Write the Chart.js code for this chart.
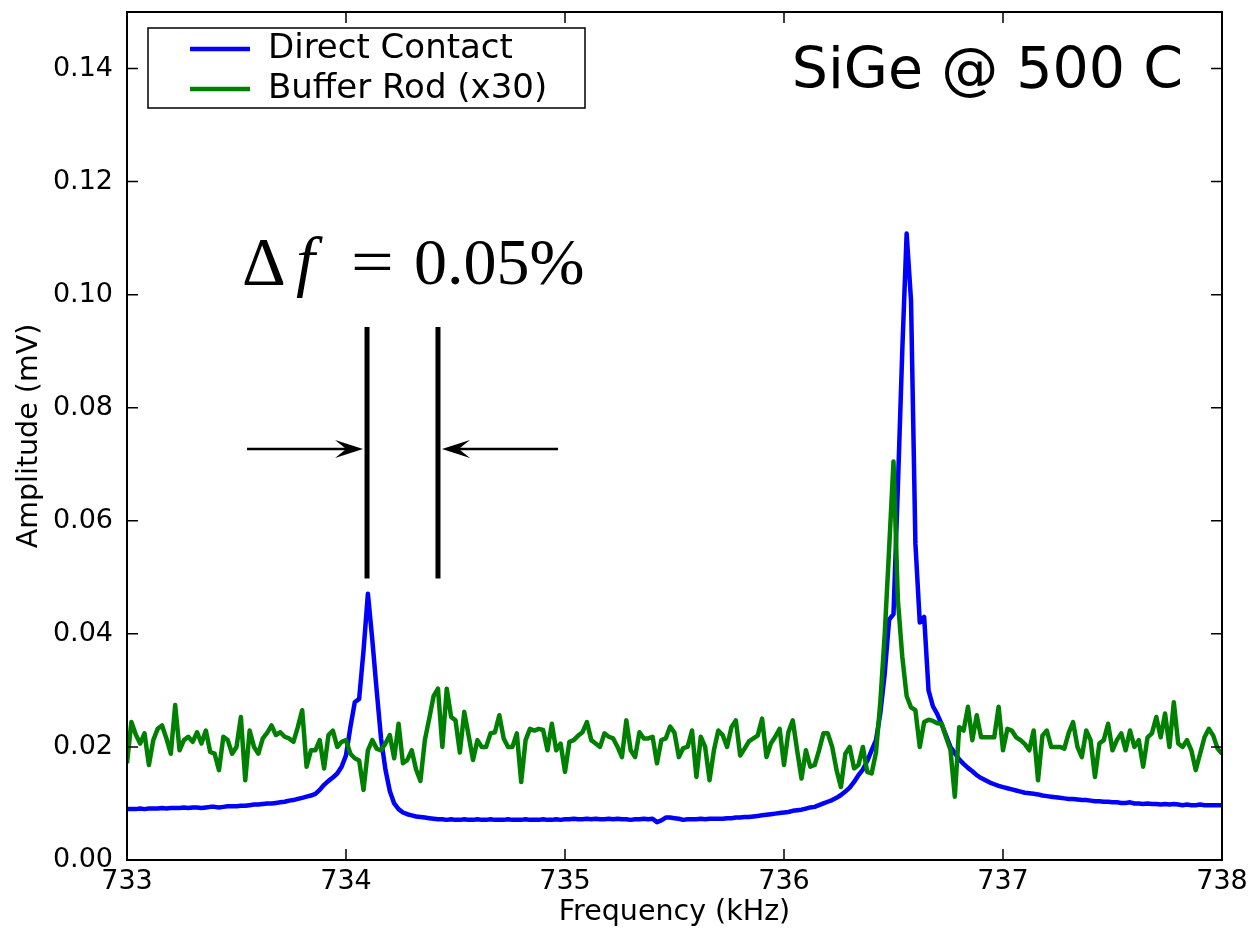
<!DOCTYPE html>
<html>
<head>
<meta charset="utf-8">
<title>SiGe @ 500 C</title>
<script src="https://cdn.jsdelivr.net/npm/chart.js@4.4.1/dist/chart.umd.min.js"></script>
<style>
  html, body { margin: 0; padding: 0; background: #fff; }
  #wrap { width: 1252px; height: 930px; }
</style>
</head>
<body>
<div id="wrap"><canvas id="spectrum" width="1252" height="930"></canvas></div>
<script>
// frequency sweep: 733.00 .. 738.00 kHz, one reading every 0.02 kHz
const freqStart = 733;
const freqStep = 0.02;

// amplitude (mV), transducer glued straight onto the sample
const directContact = [
  0.0090, 0.0090, 0.0090, 0.0091, 0.0090, 0.0091, 0.0091, 0.0091, 0.0092, 0.0091,
  0.0092, 0.0092, 0.0092, 0.0093, 0.0092, 0.0093, 0.0093, 0.0092, 0.0093, 0.0094,
  0.0094, 0.0093, 0.0094, 0.0095, 0.0095, 0.0095, 0.0096, 0.0096, 0.0097, 0.0098,
  0.0098, 0.0099, 0.0100, 0.0100, 0.0101, 0.0102, 0.0103, 0.0105, 0.0106, 0.0108,
  0.0110, 0.0112, 0.0114, 0.0117, 0.0124, 0.0133, 0.0140, 0.0146, 0.0153, 0.0165,
  0.0185, 0.0235, 0.0279, 0.0285, 0.0370, 0.0471, 0.0390, 0.0300, 0.0215, 0.0160,
  0.0122, 0.0100, 0.0090, 0.0084, 0.0081, 0.0079, 0.0077, 0.0076, 0.0075, 0.0074,
  0.0073, 0.0072, 0.0072, 0.0071, 0.0072, 0.0071, 0.0071, 0.0072, 0.0071, 0.0071,
  0.0072, 0.0071, 0.0071, 0.0072, 0.0071, 0.0071, 0.0071, 0.0072, 0.0071, 0.0071,
  0.0071, 0.0072, 0.0071, 0.0071, 0.0071, 0.0072, 0.0071, 0.0071, 0.0072, 0.0071,
  0.0072, 0.0072, 0.0073, 0.0072, 0.0072, 0.0073, 0.0072, 0.0073, 0.0072, 0.0072,
  0.0073, 0.0072, 0.0073, 0.0072, 0.0072, 0.0071, 0.0072, 0.0072, 0.0073, 0.0072,
  0.0073, 0.0067, 0.0070, 0.0075, 0.0075, 0.0074, 0.0073, 0.0071, 0.0072, 0.0072,
  0.0072, 0.0073, 0.0072, 0.0073, 0.0073, 0.0073, 0.0073, 0.0074, 0.0074, 0.0075,
  0.0075, 0.0076, 0.0076, 0.0077, 0.0078, 0.0079, 0.0080, 0.0081, 0.0082, 0.0083,
  0.0084, 0.0085, 0.0087, 0.0088, 0.0089, 0.0091, 0.0093, 0.0094, 0.0097, 0.0100,
  0.0103, 0.0106, 0.0110, 0.0115, 0.0121, 0.0128, 0.0138, 0.0150, 0.0160, 0.0175,
  0.0194, 0.0212, 0.0260, 0.0330, 0.0425, 0.0435, 0.0660, 0.0900, 0.1108, 0.0990,
  0.0560, 0.0420, 0.0430, 0.0300, 0.0272, 0.0258, 0.0240, 0.0220, 0.0200, 0.0189,
  0.0178, 0.0170, 0.0163, 0.0157, 0.0150, 0.0145, 0.0141, 0.0137, 0.0134, 0.0131,
  0.0129, 0.0127, 0.0125, 0.0123, 0.0121, 0.0119, 0.0118, 0.0117, 0.0116, 0.0114,
  0.0113, 0.0112, 0.0111, 0.0110, 0.0109, 0.0108, 0.0108, 0.0107, 0.0106, 0.0106,
  0.0105, 0.0104, 0.0104, 0.0103, 0.0103, 0.0102, 0.0102, 0.0101, 0.0101, 0.0102,
  0.0100, 0.0100, 0.0099, 0.0100, 0.0099, 0.0099, 0.0098, 0.0099, 0.0098, 0.0099,
  0.0098, 0.0097, 0.0098, 0.0097, 0.0097, 0.0098, 0.0097, 0.0097, 0.0097, 0.0097,
  0.0097
];

// amplitude (mV) through the buffer rod, already scaled x30
const bufferRod = [
  0.0171, 0.0244, 0.0222, 0.0206, 0.0224, 0.0168, 0.0212, 0.0232, 0.0238, 0.0215,
  0.0188, 0.0274, 0.0194, 0.0212, 0.0218, 0.0209, 0.0226, 0.0206, 0.0229, 0.0191,
  0.0188, 0.0159, 0.0218, 0.0212, 0.0188, 0.0200, 0.0253, 0.0141, 0.0229, 0.0200,
  0.0188, 0.0215, 0.0225, 0.0238, 0.0221, 0.0226, 0.0218, 0.0215, 0.0209, 0.0235,
  0.0265, 0.0165, 0.0194, 0.0194, 0.0212, 0.0162, 0.0221, 0.0229, 0.0200, 0.0209,
  0.0212, 0.0188, 0.0180, 0.0176, 0.0124, 0.0194, 0.0212, 0.0197, 0.0194, 0.0206,
  0.0221, 0.0180, 0.0241, 0.0171, 0.0177, 0.0194, 0.0160, 0.0140, 0.0212, 0.0250,
  0.0290, 0.0303, 0.0200, 0.0303, 0.0253, 0.0247, 0.0190, 0.0262, 0.0220, 0.0177,
  0.0212, 0.0200, 0.0200, 0.0224, 0.0226, 0.0256, 0.0215, 0.0200, 0.0200, 0.0224,
  0.0138, 0.0212, 0.0232, 0.0229, 0.0232, 0.0230, 0.0194, 0.0241, 0.0194, 0.0206,
  0.0156, 0.0209, 0.0212, 0.0220, 0.0226, 0.0244, 0.0212, 0.0206, 0.0200, 0.0224,
  0.0218, 0.0215, 0.0200, 0.0182, 0.0247, 0.0194, 0.0182, 0.0226, 0.0215, 0.0215,
  0.0218, 0.0171, 0.0212, 0.0215, 0.0236, 0.0225, 0.0182, 0.0198, 0.0200, 0.0229,
  0.0147, 0.0218, 0.0200, 0.0141, 0.0194, 0.0229, 0.0221, 0.0200, 0.0235, 0.0247,
  0.0185, 0.0197, 0.0210, 0.0215, 0.0220, 0.0250, 0.0182, 0.0206, 0.0218, 0.0232,
  0.0168, 0.0226, 0.0247, 0.0194, 0.0144, 0.0194, 0.0165, 0.0168, 0.0194, 0.0224,
  0.0224, 0.0200, 0.0159, 0.0129, 0.0188, 0.0200, 0.0162, 0.0168, 0.0200, 0.0156,
  0.0153, 0.0190, 0.0280, 0.0400, 0.0550, 0.0705, 0.0460, 0.0360, 0.0290, 0.0270,
  0.0265, 0.0200, 0.0244, 0.0248, 0.0246, 0.0242, 0.0241, 0.0217, 0.0195, 0.0112,
  0.0235, 0.0229, 0.0271, 0.0212, 0.0256, 0.0217, 0.0217, 0.0217, 0.0217, 0.0271,
  0.0194, 0.0232, 0.0229, 0.0217, 0.0212, 0.0205, 0.0194, 0.0229, 0.0141, 0.0220,
  0.0229, 0.0200, 0.0200, 0.0200, 0.0197, 0.0225, 0.0244, 0.0200, 0.0182, 0.0229,
  0.0212, 0.0147, 0.0206, 0.0212, 0.0241, 0.0194, 0.0212, 0.0224, 0.0194, 0.0229,
  0.0200, 0.0212, 0.0165, 0.0217, 0.0224, 0.0253, 0.0217, 0.0259, 0.0200, 0.0279,
  0.0206, 0.0200, 0.0212, 0.0194, 0.0159, 0.0188, 0.0217, 0.0232, 0.0220, 0.0197,
  0.0188
];

const seriesLabels = ["Direct Contact", "Buffer Rod (x30)"];
const seriesColors = ["#0000ff", "#008000"];

const xTicks = [733, 734, 735, 736, 737, 738];
const yTicks = [0, 0.02, 0.04, 0.06, 0.08, 0.10, 0.12, 0.14];

// peak-shift markers: bar positions (kHz), bar span (mV), arrows
const markerFreqs = [734.096, 734.42];
const markerSpan = [0.0498, 0.0943];
const arrowTails = [733.548, 734.968];
const arrowLevel = 0.0727;
const shiftLabelAt = { x: 733.525, y: 0.1018 };

const tickLen = 11;
const lineWidth = 4.5;

function toPoints(values) {
  return values.map((v, i) => ({ x: freqStart + i * freqStep, y: v }));
}

function drawArrow(ctx, tailX, tipX, yPx) {
  const dir = Math.sign(tipX - tailX);
  const headLen = 28, headHalf = 9;
  ctx.beginPath();
  ctx.moveTo(tailX, yPx);
  ctx.lineTo(tipX - dir * headLen * 0.6, yPx);
  ctx.lineWidth = 2.5;
  ctx.stroke();
  ctx.beginPath();
  ctx.moveTo(tipX, yPx);
  ctx.lineTo(tipX - dir * headLen, yPx - headHalf);
  ctx.lineTo(tipX - dir * headLen * 0.6, yPx);
  ctx.lineTo(tipX - dir * headLen, yPx + headHalf);
  ctx.closePath();
  ctx.fill();
}

const decorations = {
  id: "decorations",
  afterDatasetsDraw(chart) {
    const { ctx, chartArea: a, scales: { x, y } } = chart;
    ctx.save();
    ctx.strokeStyle = "#000";
    ctx.fillStyle = "#000";

    // inward tick marks on every side
    ctx.lineWidth = 1.5;
    ctx.beginPath();
    xTicks.forEach((v) => {
      const px = x.getPixelForValue(v);
      ctx.moveTo(px, a.bottom); ctx.lineTo(px, a.bottom - tickLen);
      ctx.moveTo(px, a.top); ctx.lineTo(px, a.top + tickLen);
    });
    yTicks.forEach((v) => {
      const py = y.getPixelForValue(v);
      ctx.moveTo(a.left, py); ctx.lineTo(a.left + tickLen, py);
      ctx.moveTo(a.right, py); ctx.lineTo(a.right - tickLen, py);
    });
    ctx.stroke();

    // axes frame
    ctx.lineWidth = 2;
    ctx.strokeRect(a.left, a.top, a.right - a.left, a.bottom - a.top);

    // shift markers
    ctx.lineWidth = 5;
    ctx.beginPath();
    markerFreqs.forEach((f) => {
      const px = x.getPixelForValue(f);
      ctx.moveTo(px, y.getPixelForValue(markerSpan[0]));
      ctx.lineTo(px, y.getPixelForValue(markerSpan[1]));
    });
    ctx.stroke();
    const ay = y.getPixelForValue(arrowLevel);
    drawArrow(ctx, x.getPixelForValue(arrowTails[0]), x.getPixelForValue(markerFreqs[0]) - 4, ay);
    drawArrow(ctx, x.getPixelForValue(arrowTails[1]), x.getPixelForValue(markerFreqs[1]) + 4, ay);

    // Δf = 0.05%
    const tx = x.getPixelForValue(shiftLabelAt.x);
    const ty = y.getPixelForValue(shiftLabelAt.y);
    ctx.textBaseline = "alphabetic";
    ctx.textAlign = "left";
    ctx.font = "68px 'Liberation Serif'";
    ctx.fillText("\u0394", tx, ty);
    ctx.font = "italic 68px 'Liberation Serif'";
    ctx.fillText("f", tx + 54, ty);
    ctx.font = "66px 'Liberation Serif'";
    ctx.save();
    ctx.translate(tx + 109, ty);
    ctx.scale(1.15, 1);
    ctx.fillText("=", 0, 0);
    ctx.restore();
    ctx.fillText("0.05%", tx + 172, ty);

    // sample label
    ctx.font = "57px 'DejaVu Sans'";
    ctx.textAlign = "right";
    ctx.fillText("SiGe @ 500 C", a.right - 39, a.top + 76);

    // legend box
    const bx = a.left + 21, by = a.top + 16, bw = 437, bh = 80;
    ctx.fillStyle = "#fff";
    ctx.fillRect(bx, by, bw, bh);
    ctx.lineWidth = 1.5;
    ctx.strokeRect(bx, by, bw, bh);
    ctx.font = "34px 'DejaVu Sans'";
    ctx.textAlign = "left";
    ctx.textBaseline = "middle";
    chart.data.datasets.forEach((ds, i) => {
      const ly = by + 21 + i * 40;
      ctx.strokeStyle = ds.borderColor;
      ctx.lineWidth = lineWidth;
      ctx.beginPath();
      ctx.moveTo(bx + 42, ly);
      ctx.lineTo(bx + 102, ly);
      ctx.stroke();
      ctx.fillStyle = "#000";
      ctx.fillText(ds.label, bx + 120, ly);
    });
    ctx.restore();
  }
};

new Chart(document.getElementById("spectrum"), {
  type: "line",
  data: {
    datasets: [
      {
        label: seriesLabels[0],
        data: toPoints(directContact),
        borderColor: seriesColors[0],
        borderWidth: lineWidth,
        pointRadius: 0,
        tension: 0,
        borderJoinStyle: "round",
        order: 2
      },
      {
        label: seriesLabels[1],
        data: toPoints(bufferRod),
        borderColor: seriesColors[1],
        borderWidth: lineWidth,
        pointRadius: 0,
        tension: 0,
        borderJoinStyle: "round",
        order: 1
      }
    ]
  },
  options: {
    responsive: false,
    animation: false,
    layout: { padding: { top: 12, right: 30, left: 0, bottom: 0 } },
    plugins: { legend: { display: false }, tooltip: { enabled: false } },
    scales: {
      x: {
        type: "linear",
        min: 733,
        max: 738,
        grid: { display: false, drawTicks: false },
        border: { display: false },
        afterBuildTicks: (s) => { s.ticks = xTicks.map((v) => ({ value: v })); },
        afterFit: (s) => { s.height = 70; s.paddingLeft = 0; s.paddingRight = 0; },
        ticks: {
          autoSkip: false,
          maxRotation: 0,
          padding: 6,
          color: "#000",
          font: { family: "DejaVu Sans", size: 27 },
          callback: (v) => String(v)
        },
        title: {
          display: true,
          text: "Frequency (kHz)",
          color: "#000",
          font: { family: "DejaVu Sans", size: 28.5 },
          padding: { top: 0, bottom: 0 }
        }
      },
      y: {
        min: 0,
        max: 0.15,
        grid: { display: false, drawTicks: false },
        border: { display: false },
        afterBuildTicks: (s) => { s.ticks = yTicks.map((v) => ({ value: v })); },
        afterFit: (s) => { s.width = 127; s.paddingTop = 0; s.paddingBottom = 0; },
        ticks: {
          padding: 14,
          color: "#000",
          font: { family: "DejaVu Sans", size: 27 },
          callback: (v) => Number(v).toFixed(2)
        },
        title: {
          display: true,
          text: "Amplitude (mV)",
          color: "#000",
          font: { family: "DejaVu Sans", size: 28.5 },
          padding: { top: 12, bottom: 0 }
        }
      }
    }
  },
  plugins: [decorations]
});
</script>
</body>
</html>
